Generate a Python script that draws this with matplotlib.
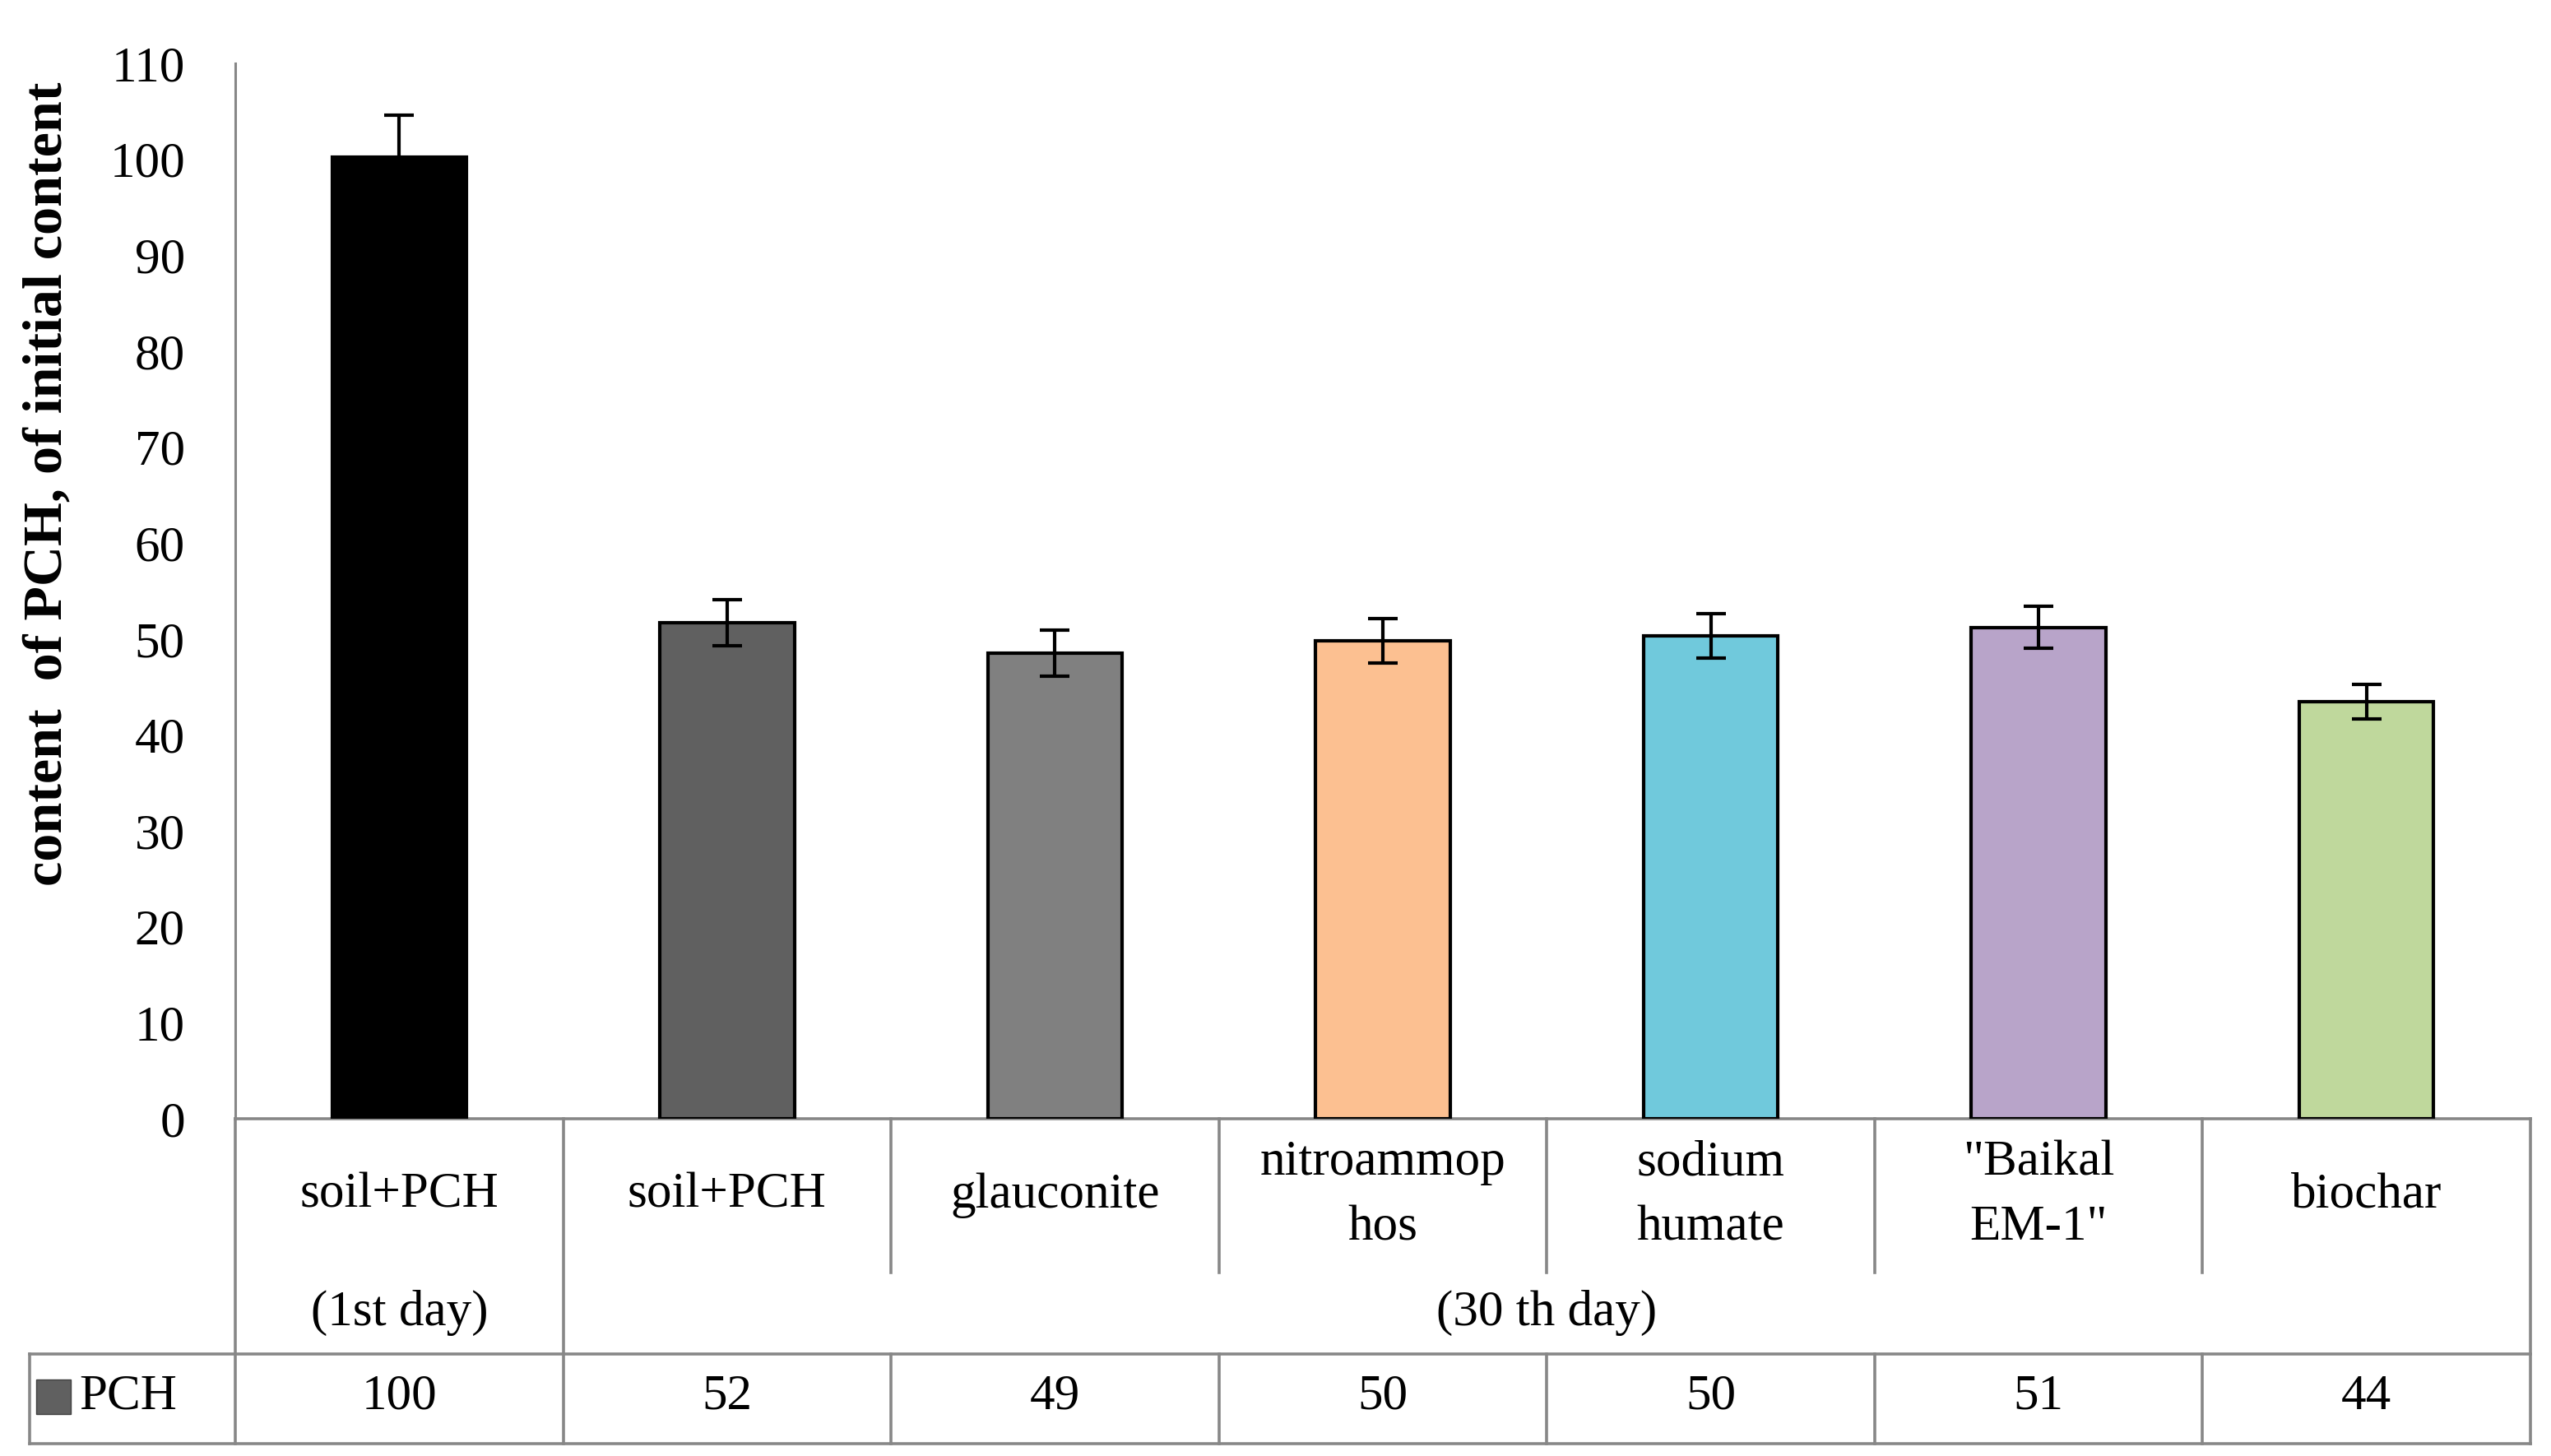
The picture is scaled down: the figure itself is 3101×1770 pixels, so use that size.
import matplotlib
matplotlib.use("Agg")
import matplotlib.pyplot as plt
from matplotlib.patches import Rectangle

# ---------------- data ----------------
categories = ["soil+PCH", "soil+PCH", "glauconite", "nitroammop\nhos",
              "sodium\nhumate", "\"Baikal\nEM-1\"", "biochar"]
group_labels = ["(1st day)", "(30 th day)"]
values = [100.2, 51.7, 48.5, 49.8, 50.3, 51.2, 43.5]
table_values = ["100", "52", "49", "50", "50", "51", "44"]
errors = [4.4, 2.4, 2.4, 2.3, 2.3, 2.2, 1.8]
colors = ["#000000", "#606060", "#808080", "#FCC091", "#70C9DC", "#B8A4C9", "#BFD89C"]
series_name = "PCH"
yticks = list(range(0, 111, 10))

# ---------------- layout (pixels) ----------------
W, H = 3101, 1770
ax_left, ax_right = 286, 3076
ax_top, ax_bot = 77, 1360

plt.rcParams['font.family'] = ['Liberation Serif', 'DejaVu Serif']
fs = 44

fig = plt.figure(figsize=(W / 100, H / 100), dpi=100)
ax = fig.add_axes([ax_left / W, (H - ax_bot) / H,
                   (ax_right - ax_left) / W, (ax_bot - ax_top) / H])

n = len(values)
x = list(range(n))
ax.bar(x, values, width=0.41, color=colors, edgecolor="black", linewidth=3.0, zorder=2)
ax.errorbar(x, values, yerr=errors, fmt="none", ecolor="black",
            elinewidth=3.0, capsize=13, capthick=3.0, zorder=3)

ax.set_xlim(-0.5, n - 0.5)
ax.set_ylim(0, 110)
ax.set_yticks(yticks)
ax.tick_params(axis="y", length=0, pad=44, labelsize=fs)
ax.set_xticks([])
for s in ["top", "right", "bottom"]:
    ax.spines[s].set_visible(False)
gray = "#878787"
ax.spines["left"].set_color(gray)
ax.spines["left"].set_linewidth(2.2)

# ---------------- data table below ----------------
ppu = (ax_bot - ax_top)            # pixels per axes-fraction unit (y)
cw = (ax_right - ax_left) / n      # pixels per category (x)

def fy(py):
    return (ax_bot - py) / ppu

def fx(px):
    return -0.5 + (px - ax_left) / cw

tr = ax.get_xaxis_transform()
y_cat_bot = fy(1646)
y_part = fy(1547)
y_row_bot = fy(1755)
x_leg = fx(36)
lw = 2.6

def line(xs, ys):
    ax.plot(xs, ys, color=gray, lw=lw, transform=tr, clip_on=False, solid_capstyle="projecting", zorder=1)

line([-0.5, n - 0.5], [0, 0])
line([x_leg, n - 0.5], [y_cat_bot, y_cat_bot])
line([x_leg, n - 0.5], [y_row_bot, y_row_bot])
line([x_leg, x_leg], [y_cat_bot, y_row_bot])
line([-0.5, -0.5], [0, y_row_bot])
for i in range(1, n + 1):
    b = i - 0.5
    if i == 1 or i == n:
        line([b, b], [0, y_row_bot])
    else:
        line([b, b], [0, y_part])
        line([b, b], [y_cat_bot, y_row_bot])

y_lab = fy(1453)
for i, c in enumerate(categories):
    ax.text(i, y_lab, c, transform=tr, ha="center", va="center",
            fontsize=fs, linespacing=1.55)
ax.text(0, fy(1596), group_labels[0], transform=tr, ha="center", va="center", fontsize=fs)
ax.text((1 + n - 1) / 2, fy(1596), group_labels[1], transform=tr, ha="center", va="center", fontsize=fs)

y_val = fy(1698)
for i, v in enumerate(table_values):
    ax.text(i, y_val, v, transform=tr, ha="center", va="center", fontsize=fs)

# legend key
sq_w = 42 / cw
sq_h = 42 / ppu
ax.add_patch(Rectangle((fx(44), y_val - sq_h / 2), sq_w, sq_h, transform=tr,
                       facecolor=colors[1], edgecolor="#404040", lw=1.0, clip_on=False))
ax.text(fx(96), y_val, series_name, transform=tr, ha="left", va="center", fontsize=fs)

# y label
fig.text(58 / W, 1 - 588 / H, "content  of PCH, of initial content", rotation=90,
         ha="center", va="center", fontsize=49, fontweight="bold")

fig.savefig("out.png", dpi=100, facecolor="white")
